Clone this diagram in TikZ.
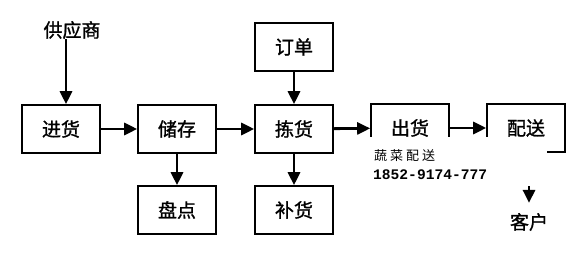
\documentclass[tikz,border=0pt]{standalone}
\usepackage{fontspec}
\newfontfamily\cjk[FakeBold=1.2]{Noto Sans CJK SC}
\newfontfamily\cjkmark{Noto Sans CJK SC}
\newfontfamily\marknum{Liberation Mono}
\usetikzlibrary{arrows.meta}
\tikzstyle{box} = [draw, line width=1.6pt, minimum width=78pt, minimum height=48pt, inner sep=0pt, font=\cjk\fontsize{19}{19}\selectfont]
\tikzstyle{plain} = [inner sep=0pt, font=\cjk\fontsize{19}{19}\selectfont]
\tikzstyle{arrow} = [line width=2.8pt, -{Triangle[length=13pt,width=12pt]}]

\begin{document}
\begin{tikzpicture}[x=1pt,y=-1pt]
    \useasboundingbox (0,0) rectangle (578,256);
    % boxes
    \node[box] (jinhuo) at (61,129) {进货};
    \node[box] (chucun) at (177,129) {储存};
    \node[box] (pandian) at (177,210) {盘点};
    \node[box] (dingdan) at (294,47) {订单};
    \node[box] (jianhuo) at (294,129) {拣货};
    \node[box] (buhuo) at (294,210) {补货};
    \node[box] (chuhuo) at (410,128) {出货};
    \node[box] (peisong) at (526,128) {配送};
    \node[plain] (gongying) at (72,30) {供应商};
    \node[plain] (kehu) at (529,222) {客户};
    % arrows
    \draw[arrow] ([xshift=-6pt]gongying.south) -- ([xshift=5pt]jinhuo.north);
    \draw[arrow] (jinhuo) -- (chucun);
    \draw[arrow] (chucun) -- (jianhuo);
    \draw[arrow] (jianhuo) -- (chuhuo);
    \draw[arrow] (chuhuo) -- (peisong);
    \draw[arrow] (chucun) -- (pandian);
    \draw[arrow] (dingdan) -- (jianhuo);
    \draw[arrow] (jianhuo) -- (buhuo);
    \draw[arrow] (kehu.north |- peisong.south) -- ([yshift=10pt]kehu.north);
    % watermark
    \fill[white] (363,137) rectangle (547,186);
    \node[inner sep=0pt, anchor=west, font=\cjkmark\fontsize{13}{13}\selectfont] (marktext) at (374,156) {蔬\hspace{3pt}菜\hspace{3pt}配\hspace{3pt}送};
    \node[inner sep=0pt, anchor=west, font=\marknum\bfseries\fontsize{14.6}{14.6}\selectfont] (marktel) at (373,175) {1852-9174-777};
\end{tikzpicture}
\end{document}
